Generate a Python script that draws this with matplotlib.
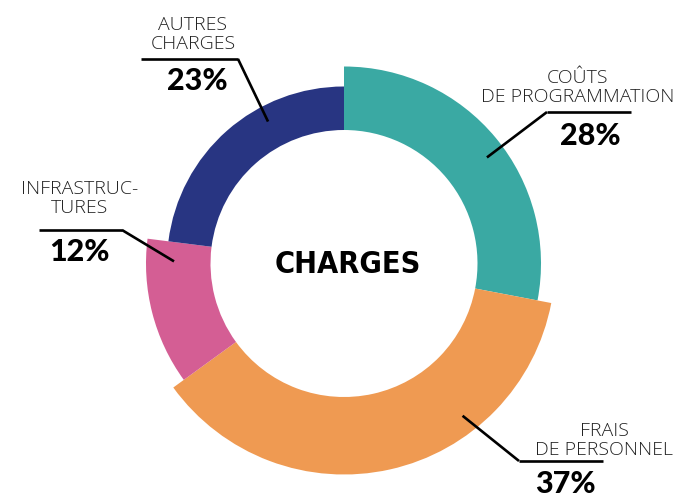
import numpy as np
import matplotlib
matplotlib.use("Agg")
import matplotlib.pyplot as plt
from matplotlib.patches import Wedge

# Budget breakdown (percent of total charges)
categories = ["COÛTS\nDE PROGRAMMATION", "FRAIS\nDE PERSONNEL", "INFRASTRUC-\nTURES", "AUTRES\nCHARGES"]
values = [28, 37, 12, 23]
colors = ["#3AA9A3", "#EF9A52", "#D45E94", "#283582"]

# Ring geometry (canvas pixel units)
center = (344.0, 263.5)
inner_r = 133.5
outer_r = [197, 211, 198, 177]

# Label layout: text centre x, baselines of the two name lines, baseline of the percentage,
# shelf line (x0, x1, y) and the fraction along each wedge where the leader ends
label_x = [578, 604, 80, 193]
name_base = [(83, 102), (436, 455), (194, 213), (30, 49)]
pct_x = [590, 565, 79, 197]
pct_base = [145, 493, 261, 90]
shelf = [(547, 631, 112, 547), (519, 603, 461, 519), (39, 122, 230, 122), (141, 238, 59, 238)]
anchor_frac = [0.53, 0.31, 0.85, 0.66]
anchor_r = [178, 193, 170, 161]

fig = plt.figure(figsize=(6.92, 4.97), dpi=100)
ax = fig.add_axes([0, 0, 1, 1])
ax.set_xlim(0, 692)
ax.set_ylim(497, 0)
ax.set_aspect("equal")
ax.axis("off")

light = dict(family=["Open Sans", "DejaVu Sans"], weight="light", color="#222222", fontsize=14)
bold = dict(family=["Lato", "DejaVu Sans"], weight="black", color="black", fontsize=22)

# Wedges run clockwise from 12 o'clock; y axis points down, so visual angle a -> data angle -a
total = float(sum(values))
start = 90.0
for i, v in enumerate(values):
    sweep = 360.0 * v / total
    a_start, a_end = start, start - sweep
    w = Wedge(center, outer_r[i], -a_start, -a_end, width=outer_r[i] - inner_r,
              facecolor=colors[i], edgecolor="none", zorder=2)
    ax.add_patch(w)

    # leader line: from shelf corner to a point inside the wedge
    ang = np.deg2rad(a_start - anchor_frac[i] * sweep)
    px = center[0] + anchor_r[i] * np.cos(ang)
    py = center[1] - anchor_r[i] * np.sin(ang)
    x0, x1, y, corner = shelf[i]
    ax.plot([x0, x1], [y, y], color="black", lw=1.9, solid_capstyle="butt", zorder=3)
    ax.plot([corner, px], [y, py], color="black", lw=1.9, solid_capstyle="butt", zorder=3)

    l1, l2 = categories[i].split("\n")
    ax.text(label_x[i], name_base[i][0], l1, ha="center", va="baseline", **light)
    ax.text(label_x[i], name_base[i][1], l2, ha="center", va="baseline", **light)
    ax.text(pct_x[i], pct_base[i], f"{v}%", ha="center", va="baseline", **bold)

    start = a_end

ax.text(348, 273, "CHARGES", ha="center", va="baseline",
        family="DejaVu Sans", stretch="condensed", weight="bold", fontsize=22, color="black")

fig.savefig("out.png", dpi=100)
